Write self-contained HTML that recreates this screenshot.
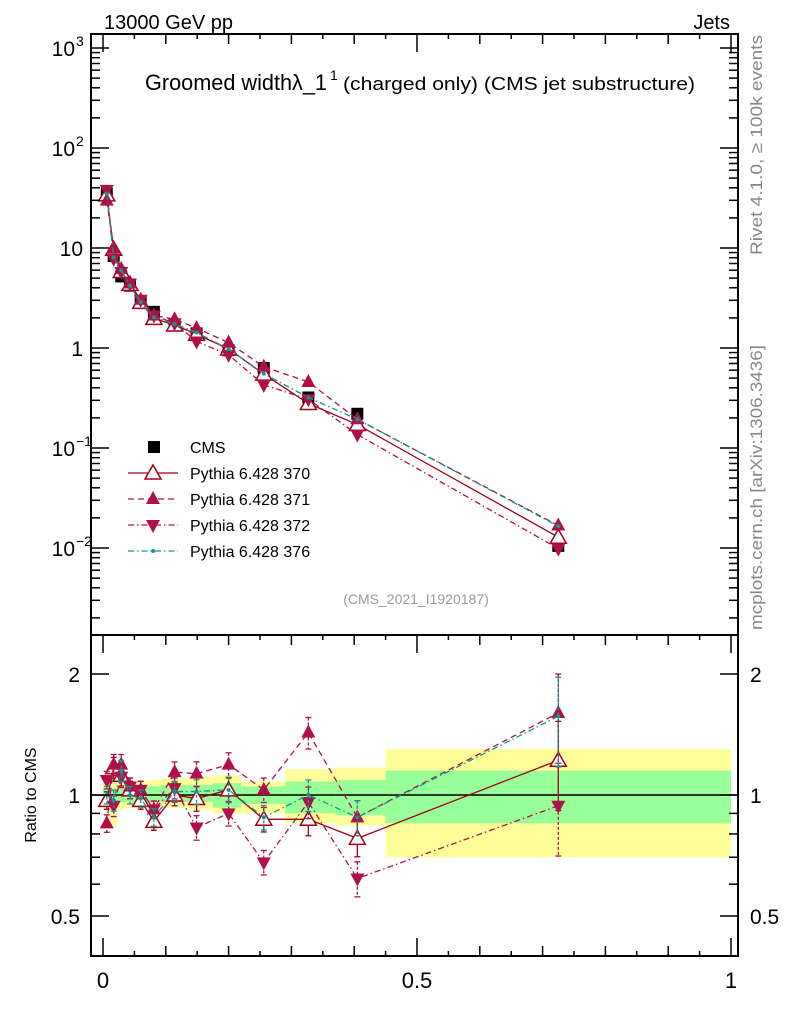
<!DOCTYPE html>
<html><head><meta charset="utf-8"><style>
body{margin:0;background:#fff;width:786px;height:1024px;overflow:hidden;font-family:"Liberation Sans",sans-serif}
svg text{font-family:"Liberation Sans","DejaVu Sans",sans-serif}
</style></head><body>
<svg id="chart" width="786" height="1024" xmlns="http://www.w3.org/2000/svg">
<g id="bands"></g>
<g id="grid"></g>
<g id="series"></g>
<g id="axes"></g>
</svg>
<script>
const xVals=[0.006,0.017,0.029,0.043,0.060,0.081,0.114,0.149,0.200,0.256,0.327,0.405,0.725];
const binEdges=[0,0.011,0.023,0.036,0.050,0.070,0.092,0.135,0.175,0.22,0.29,0.37,0.45,1.0];
const cmsVals=[35,8.3,5.2,4.2,2.95,2.3,1.7,1.4,0.95,0.63,0.32,0.22,0.0105];
const ratio370=[0.97,1.17,1.12,1.03,0.97,0.86,1.0,0.98,1.03,0.87,0.87,0.78,1.22];
const ratio371=[0.85,1.19,1.19,1.05,1.03,0.92,1.14,1.13,1.19,1.03,1.43,0.88,1.6];
const ratio372=[1.09,0.94,1.11,1.05,1.03,0.92,1.04,0.83,0.90,0.68,0.96,0.62,0.94];
const ratio376=[1.0,0.97,1.15,1.0,0.98,0.88,1.02,1.02,1.03,0.88,1.0,0.88,1.57];
const ratioErr=[0.05,0.06,0.06,0.05,0.05,0.05,0.06,0.07,0.07,0.07,0.09,0.1,0.25];
const yellowLo=[0.93,0.84,0.92,0.93,0.93,0.93,0.93,0.92,0.9,0.9,0.85,0.84,0.70];
const yellowHi=[1.08,1.08,1.07,1.07,1.08,1.09,1.1,1.11,1.12,1.08,1.16,1.17,1.30];
const greenLo=[0.96,0.95,0.96,0.96,0.96,0.96,0.96,0.96,0.93,0.95,0.9,0.89,0.85];
const greenHi=[1.04,1.04,1.04,1.04,1.05,1.05,1.06,1.06,1.07,1.05,1.08,1.09,1.15];
const yTickLabels=["10^3","10^2","10","1","10^-1","10^-2"];

const L=91,R=738,T=34,MB=635,B=956;
const X=v=>103+v*628;
const Y=v=>348-100*Math.log10(v);
const RY=r=>795-121*Math.log2(r);
const NS="http://www.w3.org/2000/svg";
function mk(tag,attrs,parent){const e=document.createElementNS(NS,tag);for(const k in attrs)e.setAttribute(k,attrs[k]);parent.appendChild(e);return e;}
const svg=document.getElementById('chart');
const bands=document.getElementById('bands'),ser=document.getElementById('series'),ax=document.getElementById('axes');

for(let i=0;i<xVals.length;i++){
  const x0=X(binEdges[i]),x1=X(binEdges[i+1]);
  const yb=mk('rect',{x:x0,y:RY(yellowHi[i]),width:x1-x0,height:RY(yellowLo[i])-RY(yellowHi[i]),fill:'#ffff99'},bands);
  
  
  const gb=mk('rect',{x:x0,y:RY(greenHi[i]),width:x1-x0,height:RY(greenLo[i])-RY(greenHi[i]),fill:'#99ff99'},bands);
  
  
}
mk('line',{x1:L,x2:R,y1:RY(1),y2:RY(1),stroke:'#000','stroke-width':1.5},bands);

const models=[
 {name:'pythia-370',r:ratio370,color:'#a00018',dash:'',marker:'open-up'},
 {name:'pythia-371',r:ratio371,color:'#b0104a',dash:'6,4',marker:'up'},
 {name:'pythia-372',r:ratio372,color:'#b0104a',dash:'6,3,1.5,3',marker:'down'},
 {name:'pythia-376',r:ratio376,color:'#119988',dash:'6,3,1.5,3',marker:'dot'}
];
function marker(type,x,y,color,parent){
  let e;
  if(type==='open-up'){e=mk('polygon',{points:`${x},${y-8} ${x-8},${y+6} ${x+8},${y+6}`,fill:'#fff',stroke:color,'stroke-width':1.5},parent);}
  else if(type==='up'){e=mk('polygon',{points:`${x},${y-8} ${x-7},${y+5} ${x+7},${y+5}`,fill:color},parent);}
  else if(type==='down'){e=mk('polygon',{points:`${x},${y+8} ${x-7},${y-5} ${x+7},${y-5}`,fill:color},parent);}
  else if(type==='sq'){e=mk('rect',{x:x-6,y:y-6,width:12,height:12,fill:'#000'},parent);}
  else {e=mk('circle',{cx:x,cy:y,r:2,fill:color},parent);}
  return e;
}
const mainG=mk('g',{},ser);


for(let i=0;i<xVals.length;i++){
  const m=marker('sq',X(xVals[i]),Y(cmsVals[i]),'#000',mainG);
  
  
}
models.forEach(md=>{
  const pts=xVals.map((x,i)=>[X(x),Y(cmsVals[i]*md.r[i])]);
  const pl=mk('polyline',{points:pts.map(p=>p.join(',')).join(' '),fill:'none',stroke:md.color,'stroke-width':1.3,'stroke-dasharray':md.dash},mainG);
  
  
  pts.forEach(p=>{const m=marker(md.marker,p[0],p[1],md.color,mainG);
    
    });
  const rpts=xVals.map((x,i)=>[X(x),RY(md.r[i])]);
  const rl=mk('polyline',{points:rpts.map(p=>p.join(',')).join(' '),fill:'none',stroke:md.color,'stroke-width':1.3,'stroke-dasharray':md.dash},ser);
  
  
  rpts.forEach((p,i)=>{
    const e=ratioErr[i];
    mk('line',{x1:p[0],x2:p[0],y1:RY(md.r[i]*(1+e)),y2:RY(md.r[i]*(1-e)),stroke:md.color,'stroke-width':1.3,'stroke-dasharray':md.dash?'3,2':''},ser);
    mk('line',{x1:p[0]-3,x2:p[0]+3,y1:RY(md.r[i]*(1+e)),y2:RY(md.r[i]*(1+e)),stroke:md.color,'stroke-width':1.3},ser);
    mk('line',{x1:p[0]-3,x2:p[0]+3,y1:RY(md.r[i]*(1-e)),y2:RY(md.r[i]*(1-e)),stroke:md.color,'stroke-width':1.3},ser);
    const m=marker(md.marker,p[0],p[1],md.color,ser);
    
    
  });
});

mk('rect',{x:L,y:T,width:R-L,height:MB-T,fill:'none',stroke:'#000','stroke-width':2},ax);
mk('rect',{x:L,y:MB,width:R-L,height:B-MB,fill:'none',stroke:'#000','stroke-width':2},ax);
for(let k=0;k<=20;k++){const v=k*0.05,x=X(v),len=k%10===0?18:(k%2===0?10:5);
  [T,MB].forEach(yy=>mk('line',{x1:x,x2:x,y1:yy,y2:yy+len,stroke:'#000','stroke-width':1.5},ax));
  mk('line',{x1:x,x2:x,y1:B,y2:B-len,stroke:'#000','stroke-width':1.5},ax);
}
[["0",0],["0.5",0.5],["1",1]].forEach(([t,v])=>{const e=mk('text',{x:X(v),y:988,'font-size':22,'text-anchor':'middle'},ax);e.textContent=t;
  });
for(let d=-3;d<=3;d++){for(let m=1;m<10;m++){const v=m*Math.pow(10,d),y=Y(v);if(y<T||y>MB)continue;const len=m===1?18:9;
  mk('line',{x1:L,x2:L+len,y1:y,y2:y,stroke:'#000','stroke-width':1.5},ax);
  mk('line',{x1:R,x2:R-len,y1:y,y2:y,stroke:'#000','stroke-width':1.5},ax);}}
yTickLabels.forEach((t,i)=>{const y=Y(Math.pow(10,3-i));const p=t.split('^');
  const e=mk('text',{x:p[1]?75:83,y:y+8,'font-size':21,'text-anchor':'end'},ax);e.textContent=p[0];
  
  if(p[1]){const s=mk('text',{x:76,y:y-2,'font-size':14},ax);s.textContent=p[1].replace('-','−');}});
[0.5,0.6,0.7,0.8,0.9,1,2].forEach(v=>{const y=RY(v),len=(v===1||v===2||v===0.5)?18:9;
  mk('line',{x1:L,x2:L+len,y1:y,y2:y,stroke:'#000','stroke-width':1.5},ax);
  mk('line',{x1:R,x2:R-len,y1:y,y2:y,stroke:'#000','stroke-width':1.5},ax);});
[["2",2],["1",1],["0.5",0.5]].forEach(([t,v])=>{
  const a=mk('text',{x:80,y:RY(v)+8,'font-size':21,'text-anchor':'end'},ax);a.textContent=t;
  const b=mk('text',{x:750,y:RY(v)+8,'font-size':21},ax);b.textContent=t;});
</script>
<svg style="position:absolute;left:0;top:0" width="786" height="1024" xmlns="http://www.w3.org/2000/svg">
<text x="104" y="29" font-size="20">13000 GeV pp</text>
<text x="730" y="29" font-size="20" text-anchor="end">Jets</text>
<text x="145" y="90" font-size="22" textLength="182" lengthAdjust="spacingAndGlyphs">Groomed widthλ_1</text>
<text x="330" y="80" font-size="14">1</text>
<text x="343" y="90" font-size="18" textLength="352" lengthAdjust="spacingAndGlyphs">(charged only) (CMS jet substructure)</text>
<text x="416" y="604" font-size="14" fill="#999" text-anchor="middle">(CMS_2021_I1920187)</text>
<text transform="translate(762,255) rotate(-90)" font-size="17" fill="#888" textLength="220" lengthAdjust="spacingAndGlyphs">Rivet 4.1.0, ≥ 100k events</text>
<text transform="translate(762,630) rotate(-90)" font-size="17" fill="#888" textLength="285" lengthAdjust="spacingAndGlyphs">mcplots.cern.ch [arXiv:1306.3436]</text>
<text transform="translate(36,795) rotate(-90)" font-size="16" text-anchor="middle">Ratio to CMS</text>
<g font-size="16">
<rect x="148" y="441" width="12" height="12" fill="#000"/><text x="190" y="453">CMS</text>
<line x1="128" x2="178" y1="473" y2="473" stroke="#a00018" stroke-width="1.3"/><polygon points="153,465 145,479 161,479" fill="#fff" stroke="#a00018" stroke-width="1.5"/><text x="190" y="479">Pythia 6.428 370</text>
<line x1="128" x2="178" y1="499" y2="499" stroke="#b0104a" stroke-width="1.3" stroke-dasharray="6,4"/><polygon points="153,491 146,504 160,504" fill="#b0104a"/><text x="190" y="505">Pythia 6.428 371</text>
<line x1="128" x2="178" y1="525" y2="525" stroke="#b0104a" stroke-width="1.3" stroke-dasharray="6,3,1.5,3"/><polygon points="153,533 146,520 160,520" fill="#b0104a"/><text x="190" y="531">Pythia 6.428 372</text>
<line x1="128" x2="178" y1="551" y2="551" stroke="#119988" stroke-width="1.3" stroke-dasharray="6,3,1.5,3"/><circle cx="153" cy="551" r="2" fill="#119988"/><text x="190" y="557">Pythia 6.428 376</text>
</g>
</svg>
</body></html>
